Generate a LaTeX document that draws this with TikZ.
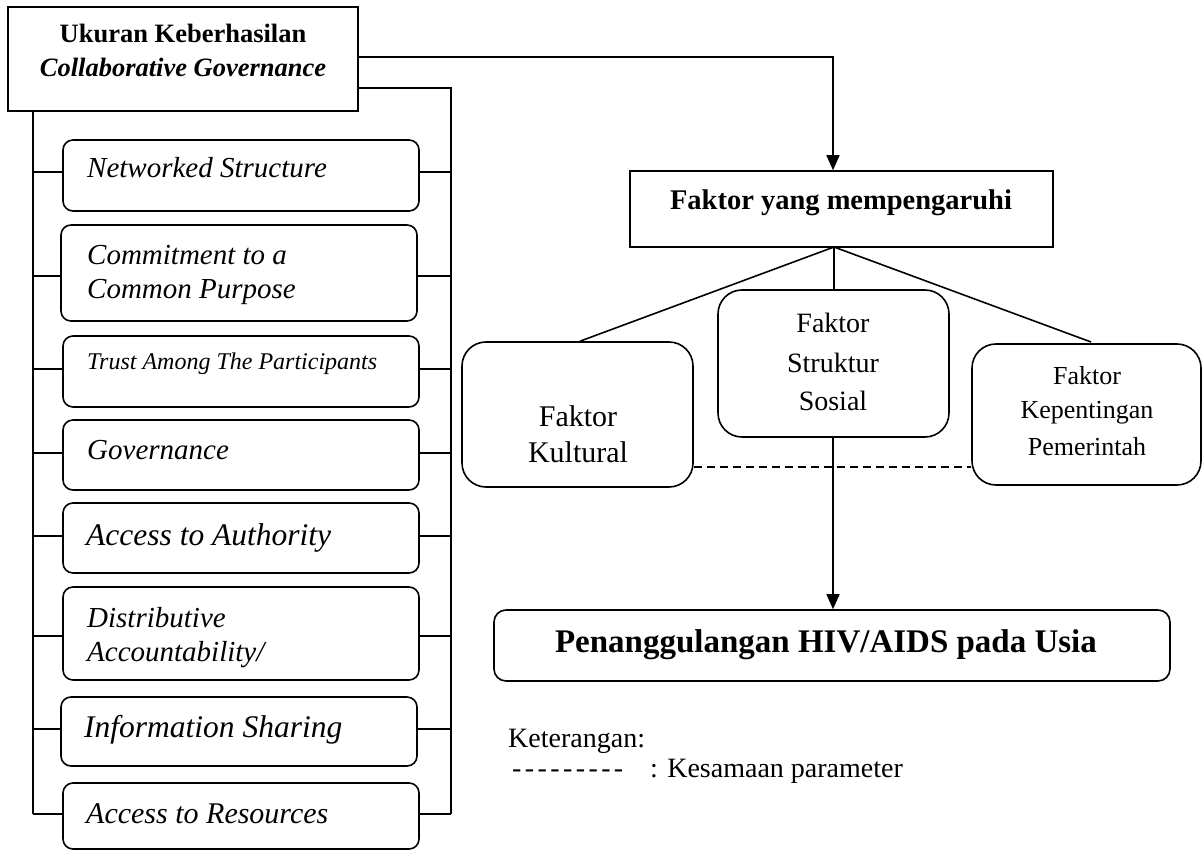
\documentclass[tikz,border=0pt]{standalone}
\usepackage{fontspec}
\setmainfont{Liberation Serif}
\usetikzlibrary{arrows.meta}
\newcommand\fs[1]{\fontsize{#1}{#1}\selectfont}
\newcommand\dsh{-\kern3.4pt}
\begin{document}
\begin{tikzpicture}[x=1pt,y=-1pt,
  ln/.style={line width=1.6pt},
  sqbox/.style={draw,line width=1.6pt,inner sep=0pt,minimum width=#1},
  itembox/.style={draw,line width=1.6pt,rounded corners=10pt,inner sep=0pt,minimum width=356pt},
  bigbox/.style={draw,line width=1.6pt,rounded corners=24pt,inner sep=0pt},
  lefttxt/.style={anchor=base west,inner sep=0pt,font=\itshape},
  ctxt/.style={anchor=base,inner sep=0pt},
  arr/.style={line width=1.6pt,-{Triangle[length=15pt,width=13pt]}},
  dsl/.style={line width=1.6pt,dash pattern=on 8pt off 5pt}]
\useasboundingbox (0,0) rectangle (1203,850);

% top-left box
\node[sqbox=350pt,minimum height=104pt] (top) at (183,59) {};
\node[ctxt,font=\fs{26.5}\bfseries] (topa) at (183,43) {Ukuran Keberhasilan};
\node[ctxt,font=\fs{26.5}\bfseries\itshape] (topb) at (183,77) {Collaborative Governance};

% bus lines
\coordinate (lbend) at (33,814);
\coordinate (rtop) at (451,88);
\coordinate (rbend) at (451,814);
\draw[ln] (top.south -| lbend) -- (lbend);
\draw[ln] (top.east |- rtop) -- (rtop) -- (rbend);

% items
\node[itembox,minimum height=71pt] (n1) at (241,175.5) {};
\node[lefttxt,font=\fs{29}\itshape] (t1) at (87,178) {Networked Structure};
\node[itembox,minimum height=96pt] (n2) at (239,273) {};
\node[lefttxt,font=\fs{29}\itshape] (t2a) at (87,265) {Commitment to a};
\node[lefttxt,font=\fs{29}\itshape] (t2b) at (87,299) {Common Purpose};
\node[itembox,minimum height=71pt] (n3) at (241,371.5) {};
\node[lefttxt,font=\fs{24}\itshape] (t3) at (87,370) {Trust Among The Participants};
\node[itembox,minimum height=70pt] (n4) at (241,455) {};
\node[lefttxt,font=\fs{29}\itshape] (t4) at (87,459) {Governance};
\node[itembox,minimum height=70pt] (n5) at (241,538) {};
\node[lefttxt,font=\fs{31.5}\itshape] (t5) at (86,545) {Access to Authority};
\node[itembox,minimum height=93pt] (n6) at (241,633.5) {};
\node[lefttxt,font=\fs{29}\itshape] (t6a) at (87,627) {Distributive};
\node[lefttxt,font=\fs{29}\itshape] (t6b) at (87,661) {Accountability/};
\node[itembox,minimum height=69pt] (n7) at (239,731.5) {};
\node[lefttxt,font=\fs{31.5}\itshape] (t7) at (84,737) {Information Sharing};
\node[itembox,minimum height=66pt] (n8) at (241,816) {};
\node[lefttxt,font=\fs{30}\itshape] (t8) at (86,823) {Access to Resources};

\foreach \n/\y in {n1/172,n2/276,n3/369,n4/453,n5/536,n6/636,n7/729,n8/814}{
  \draw[ln] (33,\y) -- (\n.west |- 0,\y);
  \draw[ln] (\n.east |- 0,\y) -- (451,\y);
}

% right side
\node[sqbox=423pt,minimum height=76pt] (fk) at (841.5,209) {};
\node[ctxt,font=\fs{28.5}\bfseries] (fkt) at (841,210) {Faktor yang mempengaruhi};
\coordinate (abend) at (833,57);
\draw[arr] (top.east |- abend) -- (abend) -- (fk.north -| abend);

\node[bigbox,minimum width=231pt,minimum height=145pt] (ku) at (577.5,414.5) {};
\node[ctxt,font=\fs{30}] (kua) at (578,427) {Faktor};
\node[ctxt,font=\fs{30}] (kub) at (578,462) {Kultural};

\node[bigbox,minimum width=231pt,minimum height=147pt] (ss) at (833.5,363.5) {};
\node[ctxt,font=\fs{28}] (ssa) at (833,333) {Faktor};
\node[ctxt,font=\fs{28}] (ssb) at (833,373) {Struktur};
\node[ctxt,font=\fs{28}] (ssc) at (833,411) {Sosial};

\node[bigbox,minimum width=229pt,minimum height=141pt] (kp) at (1086.5,414.5) {};
\node[ctxt,font=\fs{26}] (kpa) at (1087,385) {Faktor};
\node[ctxt,font=\fs{26}] (kpb) at (1087,419) {Kepentingan};
\node[ctxt,font=\fs{26}] (kpc) at (1087,455) {Pemerintah};

\coordinate (fkb) at (834,247);
\draw[ln] (fkb) -- (ku.north -| 580,0);
\draw[ln] (fkb) -- (ss.north -| fkb);
\draw[ln] (fkb) -- (1091,342);
\draw[dsl] (ku.east |- 0,467) -- (kp.west |- 0,467);

\node[draw,line width=1.6pt,rounded corners=12pt,inner sep=0pt,minimum width=676pt,minimum height=71pt] (hiv) at (832,645.5) {};
\node[ctxt,font=\fs{33}\bfseries] (hivt) at (826,652) {Penanggulangan HIV/AIDS pada Usia};
\draw[arr] (ss.south -| 833,0) -- (hiv.north -| 833,0);

% legend
\node[anchor=base west,inner sep=0pt,font=\fs{28}] (ket) at (508,747) {Keterangan:};
\node[anchor=base west,inner sep=0pt,font=\fs{28}] (dsh) at (512,777) {\dsh\dsh\dsh\dsh\dsh\dsh\dsh\dsh-};
\node[anchor=base west,inner sep=0pt,font=\fs{28}] (kes) at (650,777) {: Kesamaan parameter};
\end{tikzpicture}
\end{document}
